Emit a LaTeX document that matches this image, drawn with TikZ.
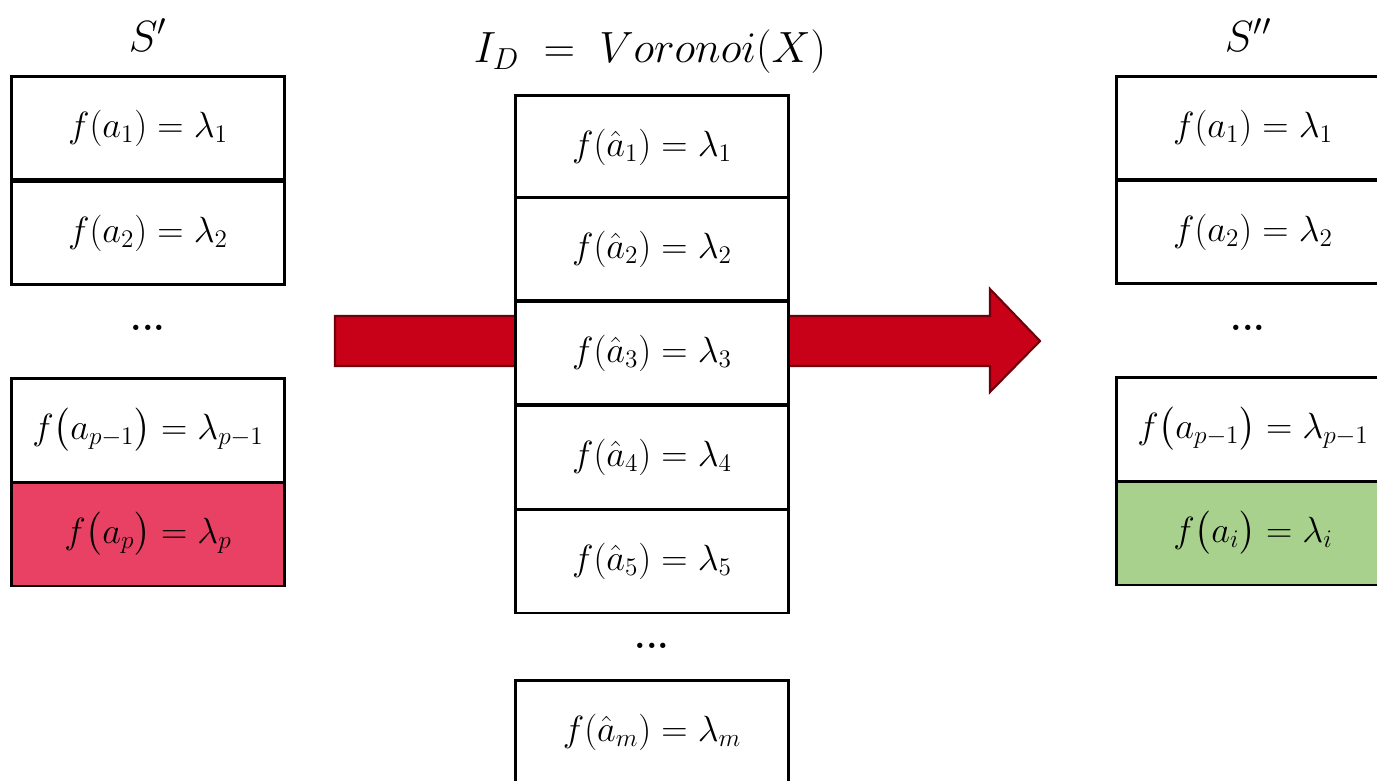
\documentclass[tikz,border=0pt]{standalone}
\usepackage{amsmath,amssymb}
\usetikzlibrary{positioning}
\definecolor{arrowred}{RGB}{200, 0, 24}
\definecolor{arrowedge}{RGB}{110, 0, 12}
\definecolor{droppink}{RGB}{232, 65, 100}
\definecolor{addgreen}{RGB}{169, 209, 142}

\begin{document}
\begin{tikzpicture}[x=0.02cm, y=-0.02cm,
    cell/.style={draw, fill=white, line width=1.7pt, minimum width=5.48cm,
      minimum height=2.08cm, inner sep=0pt, font=\fontsize{20.5}{24}\selectfont},
    gap/.style={font=\fontsize{21}{24}\selectfont\bfseries},
    title/.style={font=\fontsize{25}{30}\selectfont}]
    \useasboundingbox (0, 0) rectangle (1377, 781);
    \clip (0, 0) rectangle (1377, 781);
    % big arrow, behind the middle column
    \draw[arrowedge, fill=arrowred, line width=1.2pt, line join=miter]
      (335, 316) -- (990, 316) -- (990, 289) -- (1040, 341)
      -- (990, 392) -- (990, 366) -- (335, 366) -- cycle;
    % S'
    \node[title] (sltitle) at (148, 35) {$S'$};
    \node[cell] (sl1) at (148, 128) {$f(a_1) = \lambda_1$};
    \node[cell] (sl2) at (148, 233) {$f(a_2) = \lambda_2$};
    \node[gap] (sldots) at (148, 328) {...};
    \node[cell] (sl3) at (148, 430) {$f\bigl(a_{p-1}\bigr) = \lambda_{p-1}$};
    \node[cell, fill=droppink] (sl4) at (148, 534) {$f\bigl(a_p\bigr) = \lambda_p$};
    % I_D
    \node[title] (idtitle) at (650, 52) {$I_D\;=\;Voronoi(X)$};
    \node[cell] (id1) at (652, 147) {$f(\hat{a}_1) = \lambda_1$};
    \node[cell] (id2) at (652, 249) {$f(\hat{a}_2) = \lambda_2$};
    \node[cell] (id3) at (652, 353) {$f(\hat{a}_3) = \lambda_3$};
    \node[cell] (id4) at (652, 457) {$f(\hat{a}_4) = \lambda_4$};
    \node[cell] (id5) at (652, 561) {$f(\hat{a}_5) = \lambda_5$};
    \node[gap] (iddots) at (652, 646) {...};
    \node[cell] (idm) at (652, 732) {$f(\hat{a}_m) = \lambda_m$};
    % S''
    \node[title] (srtitle) at (1248, 35) {$S''$};
    \node[cell] (sr1) at (1253, 128) {$f(a_1) = \lambda_1$};
    \node[cell] (sr2) at (1253, 232) {$f(a_2) = \lambda_2$};
    \node[gap] (srdots) at (1248, 328) {...};
    \node[cell] (sr3) at (1253, 429) {$f\bigl(a_{p-1}\bigr) = \lambda_{p-1}$};
    \node[cell, fill=addgreen] (sr4) at (1253, 533) {$f\bigl(a_i\bigr) = \lambda_i$};
  \end{tikzpicture}
\end{document}
